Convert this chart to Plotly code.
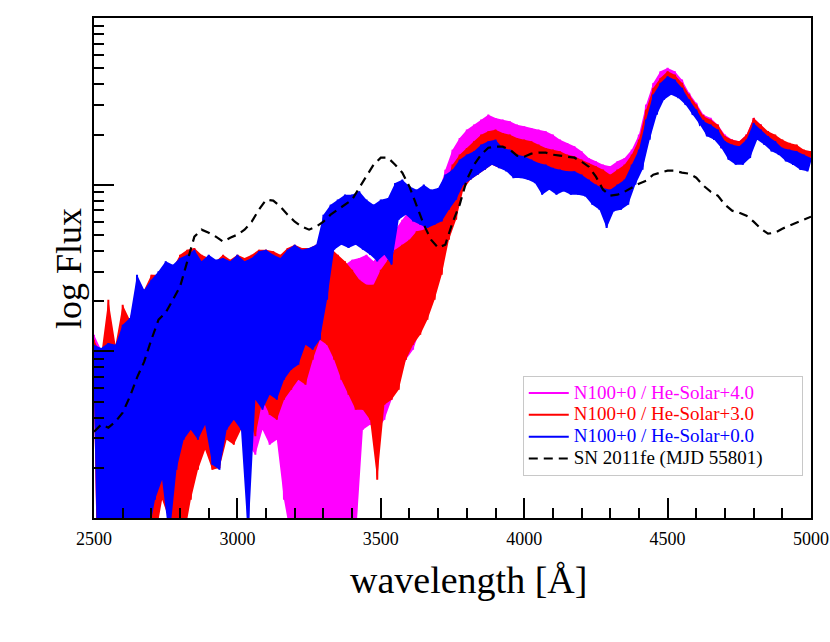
import numpy as np
import plotly.graph_objects as go

# wavelength grid of the read-off envelope values (Angstrom)
WAVE_START = 2500
WAVE_STEP = 25

# log10 flux (arbitrary normalisation), upper envelope at 2500,2525,...,5000
HE00_HI = [
    -0.96, -0.98, -0.95, -0.96, -0.84, -0.80, -0.54, -0.63, -0.57, -0.52,
    -0.46, -0.48, -0.44, -0.42, -0.39, -0.46, -0.42, -0.45, -0.44, -0.46,
    -0.42, -0.46, -0.44, -0.40, -0.39, -0.42, -0.44, -0.39, -0.36, -0.39,
    -0.38, -0.36, -0.18, -0.12, -0.09, -0.06, -0.06, -0.04, -0.09, -0.12,
    -0.09, -0.08, 0.01, 0.03, -0.01, -0.03, 0.00, -0.03, -0.02, 0.06,
    0.09, 0.15, 0.18, 0.20, 0.24, 0.26, 0.27, 0.22, 0.21, 0.18,
    0.17, 0.15, 0.13, 0.12, 0.10, 0.09, 0.08, 0.08, 0.06, 0.03,
    0.00, -0.02, -0.03, 0.00, 0.03, 0.12, 0.21, 0.39, 0.54, 0.61,
    0.65, 0.63, 0.58, 0.51, 0.45, 0.38, 0.36, 0.33, 0.26, 0.24,
    0.23, 0.27, 0.37, 0.33, 0.29, 0.26, 0.22, 0.21, 0.20, 0.18,
    0.16]
# lower envelope at 2512.5, 2537.5, ..., 4987.5
HE00_LO = [
    -2.07, -2.13, -2.07, -2.13, -2.07, -2.13, -2.01, -2.13, -1.89, -1.77,
    -2.13, -1.71, -1.53, -1.47, -1.53, -1.44, -1.68, -1.71, -1.47, -1.41,
    -1.47, -2.13, -1.29, -1.35, -1.26, -1.29, -1.17, -1.11, -1.08, -0.96,
    -0.99, -0.93, -0.69, -0.39, -0.36, -0.38, -0.36, -0.39, -0.42, -0.46,
    -0.42, -0.48, -0.21, -0.18, -0.22, -0.24, -0.26, -0.24, -0.22, -0.15,
    -0.09, 0.00, 0.03, 0.06, 0.09, 0.12, 0.10, 0.08, 0.04, 0.04,
    0.03, 0.01, -0.06, -0.03, -0.06, -0.04, -0.06, -0.06, -0.07, -0.12,
    -0.15, -0.26, -0.16, -0.15, -0.12, 0.00, 0.09, 0.27, 0.42, 0.51,
    0.54, 0.52, 0.48, 0.42, 0.36, 0.29, 0.27, 0.22, 0.15, 0.12,
    0.12, 0.16, 0.27, 0.24, 0.20, 0.18, 0.14, 0.12, 0.09, 0.08]

HE30_HI = [
    -0.93, -1.02, -0.69, -0.96, -0.72, -0.81, -0.60, -0.63, -0.54, -0.54,
    -0.48, -0.50, -0.42, -0.39, -0.38, -0.42, -0.44, -0.46, -0.42, -0.45,
    -0.42, -0.44, -0.42, -0.39, -0.39, -0.40, -0.42, -0.38, -0.36, -0.38,
    -0.38, -0.36, -0.33, -0.38, -0.42, -0.46, -0.51, -0.57, -0.60, -0.60,
    -0.51, -0.45, -0.39, -0.36, -0.33, -0.28, -0.27, -0.24, -0.21, 0.00,
    0.12, 0.18, 0.22, 0.26, 0.30, 0.32, 0.33, 0.31, 0.30, 0.28,
    0.27, 0.26, 0.24, 0.22, 0.21, 0.20, 0.18, 0.17, 0.15, 0.13,
    0.11, 0.09, 0.06, 0.09, 0.12, 0.18, 0.27, 0.45, 0.58, 0.64,
    0.68, 0.66, 0.61, 0.54, 0.48, 0.41, 0.39, 0.36, 0.29, 0.27,
    0.26, 0.30, 0.40, 0.36, 0.32, 0.30, 0.27, 0.25, 0.24, 0.21,
    0.20]
HE30_LO = [
    -2.13, -2.13, -2.13, -2.13, -2.13, -2.13, -2.13, -2.13, -2.13, -1.89,
    -2.01, -2.13, -2.13, -1.89, -1.71, -1.59, -1.71, -1.70, -1.53, -1.56,
    -1.47, -1.41, -1.51, -1.29, -1.38, -1.41, -1.29, -1.23, -1.17, -1.20,
    -1.05, -0.93, -0.96, -1.05, -1.17, -1.26, -1.35, -1.35, -1.41, -1.77,
    -1.32, -1.29, -1.23, -1.05, -0.96, -0.90, -0.81, -0.69, -0.54, -0.33,
    -0.21, -0.03, 0.03, 0.06, 0.09, 0.12, 0.10, 0.09, 0.08, 0.06,
    0.06, 0.04, 0.03, 0.03, 0.02, 0.00, -0.02, -0.03, -0.04, -0.06,
    -0.09, -0.12, -0.12, -0.09, -0.06, 0.03, 0.15, 0.33, 0.46, 0.54,
    0.57, 0.56, 0.51, 0.44, 0.39, 0.32, 0.28, 0.24, 0.18, 0.16,
    0.15, 0.20, 0.30, 0.27, 0.22, 0.21, 0.18, 0.15, 0.13, 0.10]

HE40_HI = [
    -0.90, -0.99, -0.96, -0.99, -0.87, -0.81, -0.63, -0.66, -0.60, -0.57,
    -0.54, -0.51, -0.48, -0.46, -0.45, -0.48, -0.50, -0.51, -0.50, -0.51,
    -0.52, -0.54, -0.56, -0.57, -0.60, -0.63, -0.66, -0.69, -0.69, -0.72,
    -0.69, -0.66, -0.60, -0.57, -0.54, -0.48, -0.45, -0.44, -0.42, -0.46,
    -0.39, -0.33, -0.27, -0.21, -0.15, -0.12, -0.09, -0.08, -0.06, 0.09,
    0.21, 0.28, 0.33, 0.36, 0.39, 0.42, 0.40, 0.39, 0.38, 0.36,
    0.35, 0.34, 0.33, 0.32, 0.30, 0.27, 0.25, 0.23, 0.20, 0.16,
    0.14, 0.12, 0.11, 0.14, 0.16, 0.21, 0.30, 0.48, 0.61, 0.68,
    0.70, 0.68, 0.63, 0.55, 0.49, 0.42, 0.40, 0.36, 0.30, 0.27,
    0.26, 0.30, 0.40, 0.36, 0.31, 0.29, 0.26, 0.24, 0.22, 0.20,
    0.18]
HE40_LO = [
    -2.13, -2.13, -2.13, -2.13, -2.13, -2.13, -2.13, -2.13, -2.13, -1.83,
    -1.80, -2.13, -1.71, -1.47, -1.44, -1.49, -1.41, -1.47, -1.38, -1.41,
    -1.47, -1.56, -1.62, -1.47, -1.56, -1.53, -1.89, -2.13, -2.13, -2.13,
    -2.13, -2.13, -2.13, -2.13, -2.13, -2.13, -2.13, -1.47, -1.44, -1.47,
    -1.41, -1.29, -1.17, -1.05, -0.99, -0.87, -0.75, -0.63, -0.51, -0.27,
    -0.09, 0.03, 0.09, 0.12, 0.15, 0.15, 0.14, 0.12, 0.10, 0.09,
    0.08, 0.06, 0.05, 0.04, 0.03, 0.02, 0.00, -0.02, -0.03, -0.06,
    -0.09, -0.11, -0.12, -0.09, -0.04, 0.04, 0.16, 0.34, 0.48, 0.55,
    0.58, 0.57, 0.52, 0.45, 0.39, 0.33, 0.30, 0.22, 0.18, 0.16,
    0.14, 0.20, 0.30, 0.27, 0.22, 0.20, 0.17, 0.14, 0.12, 0.09]

# SN 2011fe (MJD 55801), log10 flux at 2500,2525,...,5000
SN2011FE = [
    -1.482, -1.44, -1.458, -1.422, -1.368, -1.272, -1.158, -1.062, -0.93, -0.81,
    -0.768, -0.69, -0.612, -0.462, -0.312, -0.27, -0.288, -0.312, -0.342, -0.318,
    -0.30, -0.27, -0.222, -0.15, -0.09, -0.096, -0.132, -0.18, -0.222, -0.252,
    -0.27, -0.252, -0.222, -0.18, -0.15, -0.12, -0.09, -0.018, 0.048, 0.12,
    0.162, 0.162, 0.12, 0.072, -0.012, -0.12, -0.24, -0.33, -0.378, -0.36,
    -0.228, -0.12, 0.03, 0.12, 0.18, 0.222, 0.228, 0.228, 0.21, 0.174,
    0.168, 0.186, 0.192, 0.192, 0.18, 0.174, 0.168, 0.162, 0.138, 0.108,
    0.048, -0.03, -0.066, -0.06, -0.042, -0.018, 0.006, 0.024, 0.06, 0.072,
    0.084, 0.084, 0.072, 0.066, 0.042, -0.006, -0.042, -0.066, -0.12, -0.156,
    -0.168, -0.186, -0.222, -0.264, -0.294, -0.288, -0.264, -0.246, -0.228, -0.21,
    -0.192]

X_TICKS = [2500, 3000, 3500, 4000, 4500, 5000]
X_TICK_LABELS = ["2500", "3000", "3500", "4000", "4500", "5000"]

NAMES = ["N100+0 / He-Solar+4.0", "N100+0 / He-Solar+3.0",
         "N100+0 / He-Solar+0.0", "SN 2011fe (MJD 55801)"]
COLORS = ["#ff00ff", "#ff0000", "#0000ff", "#000000"]

FONT = "Liberation Serif, Times New Roman, serif"


def hi_x(hi):
    return [WAVE_START + WAVE_STEP * i for i in range(len(hi))]


def lo_x(lo):
    return [WAVE_START + WAVE_STEP * i + WAVE_STEP / 2 for i in range(len(lo))]


def noisy(hi, lo):
    xs, ys = [], []
    hx, lx = hi_x(hi), lo_x(lo)
    for i, h in enumerate(hi):
        xs.append(hx[i])
        ys.append(h)
        if i < len(lo):
            xs.append(lx[i])
            ys.append(lo[i])
    return xs, [10 ** v for v in ys]


def band(hi, lo):
    xs = hi_x(hi) + lo_x(lo)[::-1]
    ys = list(hi) + list(lo)[::-1]
    return xs, [10 ** v for v in ys]


def label(name, col):
    pad = "\u00a0" * 7
    return f'<span style="color:{col};font-size:19px">{name}{pad}</span>'


fig = go.Figure()
for (hi, lo), name, col in zip([(HE40_HI, HE40_LO), (HE30_HI, HE30_LO), (HE00_HI, HE00_LO)],
                               NAMES[:3], COLORS[:3]):
    bx, by = band(hi, lo)
    fig.add_trace(go.Scatter(x=bx, y=by, mode="none", fill="toself",
                             fillcolor=col, showlegend=False, hoverinfo="skip"))
    x, y = noisy(hi, lo)
    fig.add_trace(go.Scatter(x=x, y=y, mode="lines",
                             line=dict(color=col, width=2),
                             name=label(name, col)))

sn_x = [WAVE_START + WAVE_STEP * i for i in range(len(SN2011FE))]
fig.add_trace(go.Scatter(x=sn_x, y=[10 ** v for v in SN2011FE], mode="lines",
                         line=dict(color="black", width=2.2, dash="9px,6px"),
                         name=label(NAMES[3], "#000000")))

minor_y = [k * 10.0 ** n for n in (-2, -1, 0) for k in range(2, 10)]

fig.update_layout(
    width=830, height=642,
    margin=dict(l=94, r=19, t=18, b=124),
    paper_bgcolor="white", plot_bgcolor="white",
    font=dict(family=FONT, color="black"),
    showlegend=True,
    legend=dict(x=0.598, y=0.284, xanchor="left", yanchor="top",
                bgcolor="white", bordercolor="#c8c8c8", borderwidth=1,
                font=dict(family=FONT, size=14.5), tracegroupgap=0,
                itemwidth=40),
    xaxis=dict(range=[2500, 5000], tickmode="array", tickvals=X_TICKS,
               ticktext=X_TICK_LABELS, ticks="inside", ticklen=20, tickwidth=2,
               tickcolor="black", showline=True, linewidth=2, linecolor="black",
               mirror=True, showgrid=False, zeroline=False, automargin=False,
               ticklabelstandoff=3,
               tickfont=dict(family=FONT, size=18),
               minor=dict(dtick=100, ticks="inside", ticklen=10, tickwidth=1.5,
                          tickcolor="black", showgrid=False)),
    yaxis=dict(type="log", range=[-2, 1], tickmode="array",
               tickvals=[0.01, 0.1, 1, 10], showticklabels=False,
               ticks="inside", ticklen=20, tickwidth=2, tickcolor="black",
               showline=True, linewidth=2, linecolor="black", mirror=True,
               showgrid=False, zeroline=False, automargin=False,
               minor=dict(tickmode="array", tickvals=minor_y, ticks="inside",
                          ticklen=10, tickwidth=1.5, tickcolor="black",
                          showgrid=False)),
    annotations=[
        dict(text="wavelength [Å]", xref="paper", yref="paper", x=0.523, y=-0.124,
             xanchor="center", yanchor="middle", showarrow=False,
             font=dict(family=FONT, size=38)),
        dict(text="log Flux", xref="paper", yref="paper", x=-0.035, y=0.50,
             xanchor="center", yanchor="middle", showarrow=False, textangle=-90,
             font=dict(family=FONT, size=36)),
    ],
)

fig.write_html("out.html", config={"displayModeBar": False},
               post_script="document.body.style.margin='0';")
